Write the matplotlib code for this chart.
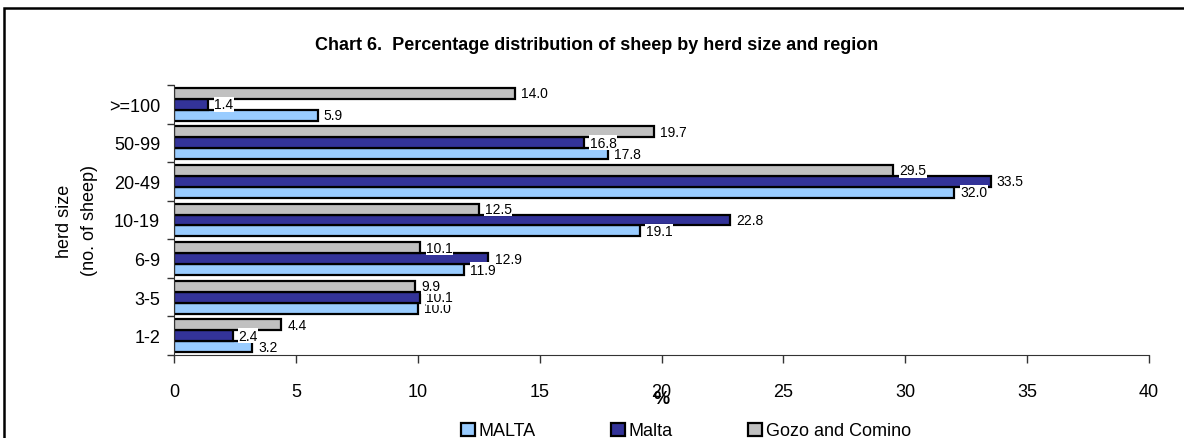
import numpy as np
import matplotlib.pyplot as plt
from matplotlib.patches import Rectangle

plt.rcParams['font.family'] = ['Liberation Sans', 'DejaVu Sans']

categories = ["1-2", "3-5", "6-9", "10-19", "20-49", "50-99", ">=100"]
series_names = ["MALTA", "Malta", "Gozo and Comino"]
malta_total = [3.2, 10.0, 11.9, 19.1, 32.0, 17.8, 5.9]
malta = [2.4, 10.1, 12.9, 22.8, 33.5, 16.8, 1.4]
gozo = [4.4, 9.9, 10.1, 12.5, 29.5, 19.7, 14.0]
colors = ["#99CCFF", "#333399", "#C0C0C0"]

W, H = 1184, 439
fig = plt.figure(figsize=(W / 100, H / 100), dpi=100)
ax = fig.add_axes([174 / W, 1 - 356 / H, (1149 - 174) / W, (356 - 86) / H])

y = np.arange(len(categories))
bh = 0.285
for i, (vals, col, name) in enumerate(zip([malta_total, malta, gozo], colors, series_names)):
    pos = y + (i - 1) * bh
    ax.barh(pos, vals, height=bh, color=col, edgecolor="black", linewidth=1.6, label=name)
    for p, v in zip(pos, vals):
        ax.text(v + 0.25, p, f"{v:.1f}", va="center", ha="left", fontsize=10,
                bbox=dict(facecolor="white", edgecolor="none", pad=0.3))

ax.set_xlim(0, 40)
ax.set_ylim(-0.5, len(categories) - 0.5)
ax.set_xticks(range(0, 41, 5))
ax.set_yticks(y)
ax.set_yticklabels(categories)
ax.set_yticks(np.arange(-0.5, len(categories), 1), minor=True)
ax.tick_params(axis="y", which="major", length=0, labelsize=13, pad=10)
ax.tick_params(axis="y", which="minor", length=5, width=1, color="#333333")
ax.tick_params(axis="x", length=6, width=1, color="#333333", labelsize=13, pad=14)
for s in ["top", "right"]:
    ax.spines[s].set_visible(False)
ax.spines["left"].set_color("#333333")
ax.spines["bottom"].set_color("#333333")

ax.set_xlabel("%", fontsize=13, fontweight="bold", labelpad=-7)
ax.set_ylabel("herd size\n(no. of sheep)", fontsize=13, labelpad=8, linespacing=1.6)

fig.text(597 / W, 1 - 46 / H, "Chart 6.  Percentage distribution of sheep by herd size and region",
         ha="center", va="center", fontsize=13, fontweight="bold")

ax.legend(loc="center", bbox_to_anchor=(686 / W, 1 - 432 / H), bbox_transform=fig.transFigure,
          ncol=3, frameon=False, fontsize=13, handlelength=0.75, handleheight=0.75,
          handletextpad=0.2, columnspacing=4.2)

fig.patches.append(Rectangle((3.5 / W, -0.1), 1.2, 1 - 9 / H + 0.1, transform=fig.transFigure,
                             fill=False, edgecolor="black", linewidth=1.8))

fig.savefig("out.png", dpi=100)
